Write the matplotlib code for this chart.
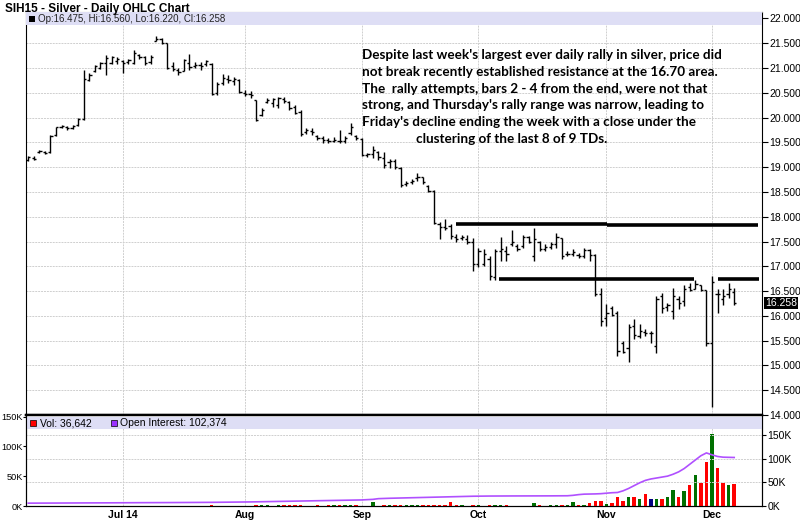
import numpy as np
import pandas as pd
import matplotlib
matplotlib.use('Agg')
import matplotlib.pyplot as plt
from matplotlib.patches import Rectangle

# trading days of SIH15 shown on the chart (Jun 6 - Dec 5 2014)
holidays = ['2014-07-04', '2014-09-01', '2014-11-27']
dates = pd.bdate_range('2014-06-06', '2014-12-05')
dates = dates[~dates.isin(pd.to_datetime(holidays))]
month_labels = ['Jul 14', 'Aug', 'Sep', 'Oct', 'Nov', 'Dec']

opens = [19.15, 19.19, 19.30, 19.31, 19.30, 19.64, 19.82, 19.80, 19.79, 19.86,
         19.98, 20.76, 20.94, 21.00, 21.10, 21.10, 21.15,
         21.14, 21.12, 21.10, 21.26, 21.22, 21.12, 21.55, 21.58, 21.50, 21.05,
         20.96, 20.94, 21.10, 21.05, 21.06, 21.08, 21.09, 20.50, 20.70, 20.78,
         20.74, 20.76,
         20.50, 20.48, 20.35, 20.05, 20.32, 20.30, 20.25, 20.38, 20.32, 20.22,
         20.12, 19.70, 19.72, 19.62, 19.58, 19.55, 19.52, 19.52, 19.52, 19.68, 19.62,
         19.56, 19.24, 19.26, 19.30, 19.18, 19.10, 19.12, 18.99, 18.66, 18.70,
         18.78, 18.80, 18.62, 18.52, 17.85, 17.80, 17.82, 17.60, 17.58, 17.56, 17.50,
         17.05, 17.05, 17.15, 16.78, 17.30, 17.30, 17.45, 17.40, 17.40, 17.60,
         17.20, 17.50, 17.35, 17.38, 17.45, 17.57, 17.25, 17.25, 17.22, 17.20,
         17.32, 17.22, 16.45,
         15.95, 16.15, 16.05, 15.45, 15.35, 15.80, 15.60, 15.68, 15.65, 15.40,
         16.40, 16.18, 16.10, 16.35, 16.30, 16.58, 16.55, 16.62, 16.52,
         15.45, 16.45, 16.35, 16.45, 16.475]
highs = [19.23, 19.22, 19.35, 19.33, 19.64, 19.82, 19.86, 19.83, 19.86, 20.00,
         20.97, 20.90, 21.07, 21.13, 21.26, 21.24, 21.22,
         21.16, 21.19, 21.37, 21.28, 21.24, 21.26, 21.64, 21.60, 21.50, 21.12,
         21.00, 21.19, 21.28, 21.12, 21.12, 21.16, 21.10, 20.72, 20.87, 20.85,
         20.82, 20.77,
         20.55, 20.54, 20.36, 20.20, 20.40, 20.40, 20.42, 20.42, 20.33, 20.25,
         20.15, 19.78, 19.78, 19.65, 19.62, 19.58, 19.60, 19.75, 19.62, 19.89, 19.65,
         19.58, 19.28, 19.42, 19.32, 19.30, 19.16, 19.16, 19.00, 18.73, 18.76,
         18.89, 18.81, 18.64, 18.54, 17.89, 17.96, 17.86, 17.66, 17.63, 17.63, 17.57,
         17.36, 17.34, 17.20, 17.34, 17.60, 17.40, 17.74, 17.44, 17.64, 17.62,
         17.77, 17.52, 17.44, 17.50, 17.67, 17.58, 17.30, 17.34, 17.27, 17.37,
         17.34, 17.24, 16.57,
         16.23, 16.20, 16.10, 15.49, 15.83, 15.93, 15.83, 15.73, 15.70, 16.40,
         16.47, 16.26, 16.57, 16.40, 16.63, 16.67, 16.73, 16.63, 16.53,
         16.80, 16.55, 16.55, 16.67, 16.56]
lows = [19.13, 19.14, 19.28, 19.26, 19.29, 19.62, 19.79, 19.74, 19.77, 19.84,
        19.96, 20.74, 20.92, 20.98, 20.85, 21.08, 21.09,
        20.90, 21.08, 21.08, 21.18, 21.06, 21.09, 21.54, 21.48, 20.98, 20.94,
        20.86, 20.93, 20.96, 21.00, 20.96, 21.05, 20.45, 20.46, 20.65, 20.69,
        20.65, 20.49,
        20.44, 20.40, 19.93, 20.04, 20.30, 20.22, 20.19, 20.30, 20.15, 20.08,
        19.63, 19.67, 19.65, 19.54, 19.48, 19.48, 19.50, 19.48, 19.48, 19.65, 19.55,
        19.22, 19.20, 19.18, 19.15, 18.98, 18.99, 18.96, 18.59, 18.62, 18.66,
        18.73, 18.66, 18.49, 17.86, 17.56, 17.73, 17.56, 17.49, 17.53, 17.44, 16.90,
        16.99, 17.00, 16.73, 16.72, 17.10, 17.10, 17.40, 17.30, 17.37, 17.47,
        17.10, 17.30, 17.30, 17.34, 17.37, 17.14, 17.20, 17.20, 17.17, 17.17,
        17.10, 16.40, 15.80,
        15.80, 16.00, 15.19, 15.25, 15.06, 15.53, 15.56, 15.60, 15.45, 15.26,
        16.06, 16.10, 15.93, 16.13, 16.20, 16.50, 16.55, 16.50, 15.39,
        14.16, 16.05, 16.22, 16.37, 16.22]
closes = [19.20, 19.17, 19.33, 19.28, 19.62, 19.80, 19.84, 19.78, 19.84, 19.98,
          20.77, 20.86, 21.05, 21.10, 21.20, 21.22, 21.18,
          21.10, 21.16, 21.30, 21.22, 21.10, 21.22, 21.58, 21.50, 21.00, 20.98,
          20.92, 21.17, 21.02, 21.06, 21.05, 21.14, 20.47, 20.68, 20.80, 20.75,
          20.78, 20.52,
          20.48, 20.45, 19.96, 20.15, 20.36, 20.38, 20.40, 20.33, 20.20, 20.10,
          19.66, 19.75, 19.70, 19.58, 19.55, 19.52, 19.55, 19.53, 19.58, 19.82, 19.58,
          19.25, 19.26, 19.35, 19.20, 19.05, 19.12, 19.00, 18.63, 18.68, 18.72,
          18.80, 18.70, 18.52, 17.88, 17.80, 17.78, 17.62, 17.55, 17.60, 17.50, 17.05,
          17.30, 17.25, 16.80, 17.30, 17.35, 17.25, 17.50, 17.35, 17.60, 17.50,
          17.55, 17.35, 17.38, 17.45, 17.60, 17.20, 17.25, 17.28, 17.20, 17.33,
          17.22, 16.45, 15.90,
          16.05, 16.02, 15.30, 15.28, 15.78, 15.62, 15.70, 15.65, 15.65, 16.35,
          16.15, 16.22, 16.40, 16.25, 16.55, 16.52, 16.65, 16.52, 15.45,
          16.68, 16.45, 16.40, 16.55, 16.258]

# volume and open interest, thousands of contracts
volume = [0] * 33 + [2.5] + [0] * 7 + [
    1.5, 1.5, 1.5, 0, 1.5, 1.5, 1.5, 1.5, 1.5, 0, 0, 1.0, 0, 1.5, 1.5, 1.5, 1.5, 1.5, 1.5,
    0.5, 0.5, 7.0, 0.5, 1.5, 1.5, 1.5, 1.5, 2.0, 2.5, 2.0, 1.0, 2.0, 2.0, 2.0, 2.0,
    7.0, 1.0, 2.0, 0.5, 2.0,
    2.0, 0.5, 2.0, 2.0, 2.0, 2.0, 0.5, 0.5, 0.5, 0.5, 5.0, 2.0, 0.5, 2.0, 2.0, 2.0,
    2.0, 7.0, 2.0, 2.0, 5.0, 9.0, 9.0,
    3.0, 5.0, 14.5, 9.0, 14.5, 14.5, 11.0, 20.0, 12.0, 11.0, 12.0, 14.5, 27.0, 15.5,
    26.0, 36.0, 52.0, 38.0, 73.0,
    120.0, 63.0, 39.0, 35.0, 36.642]
open_interest = [
    6.0, 6.0, 6.1, 6.1, 6.2, 6.2, 6.3, 6.3, 6.4, 6.4, 6.5, 6.5, 6.6, 6.6, 6.7, 6.7, 6.8,
    6.8, 6.9, 6.9, 7.0, 7.0, 7.1, 7.1, 7.2, 7.2, 7.3, 7.3, 7.4, 7.4, 7.5, 7.5, 7.6,
    7.7, 7.8, 7.9, 8.0, 8.1, 8.2,
    8.4, 8.6, 8.8, 9.0, 9.2, 9.4, 9.6, 9.8, 10.0, 10.2, 10.4, 10.6, 10.8, 11.0, 11.2,
    11.4, 11.6, 11.8, 12.0, 12.2, 12.4,
    12.8, 13.3, 14.0, 15.5, 16.0, 16.3, 16.6, 16.9, 17.2, 17.5, 17.8, 18.1, 18.4,
    18.7, 19.0, 19.3, 19.6, 19.9, 20.2, 20.4, 20.6,
    20.8, 21.0, 21.0, 21.1, 21.1, 21.2, 21.2, 21.2, 21.3, 21.3, 21.3, 21.3, 21.4,
    21.4, 21.5, 21.5, 21.6, 22.5, 24.0, 25.0, 25.2, 25.5, 26.0,
    27.0, 28.0, 28.5, 32.0, 37.0, 43.0, 49.0, 54.0, 57.0, 59.0, 61.0, 63.0, 67.0,
    72.0, 79.0, 88.0, 97.0, 106.0, 112.0,
    108.0, 104.5, 103.0, 102.6, 102.374]

# resistance lines drawn by the author: (price, start bar, end bar)
resistance = [(17.85, 76.9, 104.2), (17.83, 104.2, 131.3),
              (16.74, 84.7, 119.7), (16.74, 124.1, 131.5)]

note_lines = ["Despite last week's largest ever daily rally in silver, price did",
              "not break recently established resistance at the 16.70 area.",
              "The  rally attempts, bars 2 - 4 from the end, were not that",
              "strong, and Thursday's rally range was narrow, leading to",
              "Friday's decline ending the week with a close under the",
              "clustering of the last 8 of 9 TDs."]

x = np.arange(len(dates))
month_starts = [i for i in range(1, len(dates)) if dates[i].month != dates[i - 1].month]

W, H = 800, 522
fig = plt.figure(figsize=(8, 5.22), dpi=100)
sans = 'Liberation Sans'
grid_col = '#cfcfcf'

def fx(px):
    return px / W

def fy(py):
    return 1 - py / H

ax = fig.add_axes([fx(26), fy(415), fx(762) - fx(26), fy(12) - fy(415)])
axv = fig.add_axes([fx(26), fy(506), fx(762) - fx(26), fy(415) - fy(506)])

# --- price panel ---
ax.vlines(x, lows, highs, color='black', lw=1.0)
ax.hlines(opens, x - 0.4, x, color='black', lw=1.0)
ax.hlines(closes, x, x + 0.4, color='black', lw=1.0)
for p, a, b in resistance:
    ax.hlines(p, a, b, color='black', lw=2.6)

ax.set_xlim(-0.4, 132)
ax.set_ylim(14.0, 22.13)
ax.yaxis.tick_right()
yt = np.arange(14.0, 22.01, 0.5)
ax.set_yticks(yt)
ax.set_yticklabels(['%.3f' % v for v in yt], fontsize=7.5, family=sans)
ax.tick_params(axis='y', length=4, width=0.8, pad=1)
ax.set_xticks(month_starts)
ax.tick_params(axis='x', length=0, labelbottom=False)
ax.grid(True, color=grid_col, lw=0.7, ls=(0, (2, 1)))
ax.set_axisbelow(True)
for s in ax.spines.values():
    s.set_color('black')
ax.spines['top'].set_color('#888888')
ax.spines['bottom'].set_linewidth(1.6)

# header strip
ax.add_patch(Rectangle((0, 1 - 13 / 403), 1, 13 / 403, transform=ax.transAxes,
                       facecolor='#dedef5', edgecolor='none', zorder=3))
fig.patches.append(Rectangle((fx(29), fy(22)), 6 / W, 6 / H, transform=fig.transFigure,
                             facecolor='black', edgecolor='none', zorder=4))
fig.text(fx(38), fy(18.5), 'Op:%.3f, Hi:%.3f, Lo:%.3f, Cl:%.3f'
         % (opens[-1], highs[-1], lows[-1], closes[-1]),
         fontsize=7.0, family=sans, va='center', ha='left', color='#222222')

# last price marker
ax.text(1.004, closes[-1], '%.3f' % closes[-1], transform=ax.get_yaxis_transform(),
        fontsize=7.5, family=sans, color='white', va='center', ha='left',
        bbox=dict(boxstyle='square,pad=0.12', facecolor='black', edgecolor='none'),
        zorder=6, clip_on=False)

fig.text(fx(5), fy(9), 'SIH15 - Silver - Daily OHLC Chart', fontsize=8.5,
         fontweight='bold', family=sans, va='center', ha='left')

# annotation, one text per line (baselines ~16.8 px apart)
for k, line in enumerate(note_lines):
    left = 416 if k == len(note_lines) - 1 else 362
    fig.text(fx(left), fy(59 + 16.8 * k), line, fontsize=9.7, fontweight='bold',
             family='Lato', va='baseline', ha='left')

# --- volume panel ---
vol_col = []
for i in range(len(closes)):
    prev = closes[i - 1] if i > 0 else opens[0]
    if closes[i] > prev:
        vol_col.append('#007000')
    elif closes[i] < prev:
        vol_col.append('#ff0000')
    else:
        vol_col.append('#000080')
axv.bar(x, volume, width=0.62, color=vol_col, zorder=3)
axv.set_xlim(-0.4, 132)
axv.set_ylim(0, 152.7)
axv.set_yticks([0, 50, 100, 150])
axv.set_yticklabels(['0K', '50K', '100K', '150K'], fontsize=6.6, family=sans)
axv.tick_params(axis='y', length=2, width=0.8, pad=0.4)
axv.set_xticks(month_starts)
axv.set_xticklabels(month_labels, fontsize=7.5, fontweight='bold', family=sans)
axv.tick_params(axis='x', length=0, pad=3)
axv.grid(True, axis='x', color=grid_col, lw=0.7, ls=(0, (2, 1)))
axv.set_axisbelow(True)
axv.spines['top'].set_linewidth(1.6)

axo = axv.twinx()
axo.plot(x, open_interest, color='#b050ff', lw=1.2, zorder=4)
axo.set_ylim(0, 192)
axo.set_yticks([0, 50, 100, 150])
axo.set_yticklabels(['0K', '50K', '100K', '150K'], fontsize=7.5, family=sans)
axo.tick_params(axis='y', length=3, width=0.8, pad=1)
axo.grid(True, axis='y', color=grid_col, lw=0.7, ls=(0, (2, 1)))
axo.set_axisbelow(True)
axo.spines['top'].set_linewidth(1.6)

axo.add_patch(Rectangle((0, 1 - 14 / 91), 1, 12 / 91, transform=axo.transAxes,
                        facecolor='#dedef5', edgecolor='none', zorder=1))
fig.patches.append(Rectangle((fx(30), fy(426)), 6 / W, 6 / H, transform=fig.transFigure,
                             facecolor='#ff0000', edgecolor='black', lw=0.5, zorder=4))
fig.text(fx(40), fy(423), 'Vol: %s' % format(int(round(volume[-1] * 1000)), ','),
         fontsize=7.5, family=sans, va='center', ha='left')
fig.patches.append(Rectangle((fx(111), fy(426)), 6 / W, 6 / H, transform=fig.transFigure,
                             facecolor='#9a30ff', edgecolor='black', lw=0.5, zorder=4))
fig.text(fx(120), fy(423), 'Open Interest: %s' % format(int(round(open_interest[-1] * 1000)), ','),
         fontsize=7.5, family=sans, va='center', ha='left')

plt.savefig('out.png', dpi=100)
